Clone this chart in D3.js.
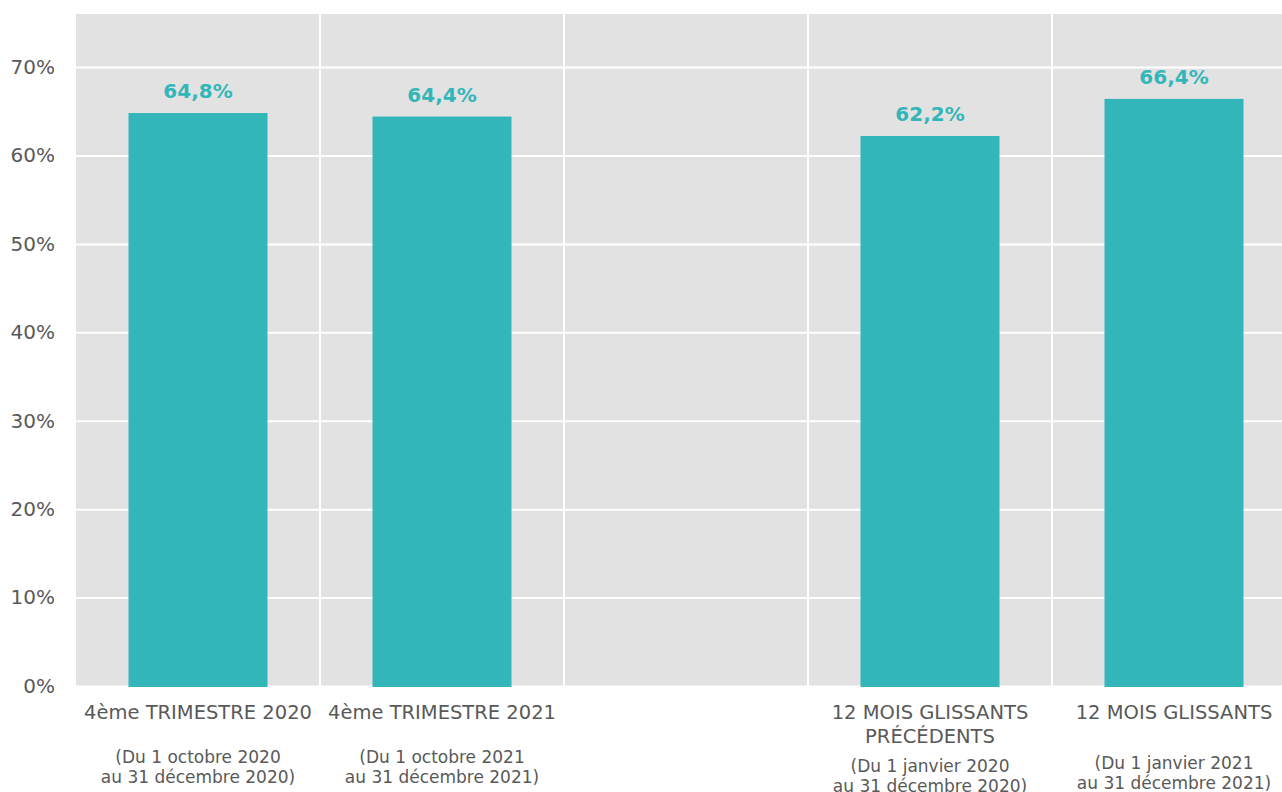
<!DOCTYPE html>
<html>
<head>
<meta charset="utf-8">
<script src="https://cdn.jsdelivr.net/npm/d3@7"></script>
<style>
  body { margin: 0; background: #fff; }
  svg { display: block; font-family: "DejaVu Sans", Verdana, sans-serif; }
</style>
</head>
<body>
<svg id="chart" width="1282" height="792"></svg>
<script>
// categories (the middle one is an empty spacer column)
const categories = ["q4_2020", "q4_2021", "blank", "y_prev", "y_curr"];
const categoryLines = [
    ["4ème TRIMESTRE 2020"],
    ["4ème TRIMESTRE 2021"],
    [],
    ["12 MOIS GLISSANTS", "PRÉCÉDENTS"],
    ["12 MOIS GLISSANTS"]
];
const dateLines = [
    ["(Du 1 octobre 2020", "au 31 décembre 2020)"],
    ["(Du 1 octobre 2021", "au 31 décembre 2021)"],
    [],
    ["(Du 1 janvier 2020", "au 31 décembre 2020)"],
    ["(Du 1 janvier 2021", "au 31 décembre 2021)"]
];
const values = [64.8, 64.4, null, 62.2, 66.4];
const valueLabels = ["64,8%", "64,4%", "", "62,2%", "66,4%"];
const yTicks = [0, 10, 20, 30, 40, 50, 60, 70];

const svg = d3.select("#chart");
const margin = { top: 14, left: 76, bottom: 106 };
const height = 792;
const bandW = 244;
const fontFam = '"DejaVu Sans", Verdana, sans-serif';

const x = d3.scaleBand()
    .domain(categories)
    .range([margin.left, margin.left + bandW * categories.length])
    .paddingInner(0).paddingOuter(0);

const y = d3.scaleLinear()
    .domain([0, 76])
    .range([height - margin.bottom, margin.top]);

// grey plot background
svg.append("rect")
    .attr("x", x.range()[0])
    .attr("y", y(76))
    .attr("width", x.range()[1] - x.range()[0])
    .attr("height", y(0) - y(76))
    .attr("fill", "#e2e2e2");

// horizontal grid + tick labels
svg.append("g")
    .attr("transform", `translate(${margin.left},0)`)
    .call(d3.axisLeft(y).tickValues(yTicks).tickFormat(d => d + "%")
        .tickSize(-(x.range()[1] - x.range()[0])).tickPadding(21))
    .call(g => g.attr("font-family", fontFam))
    .call(g => g.select(".domain").remove())
    .call(g => g.selectAll("line").attr("stroke", "#fff").attr("stroke-width", 2))
    .call(g => g.selectAll("text").attr("fill", "#595959").style("font-size", "20px"));

// vertical separators between categories
svg.append("g")
    .selectAll("line")
    .data(categories.slice(1))
    .join("line")
    .attr("x1", d => x(d))
    .attr("x2", d => x(d))
    .attr("y1", y(76))
    .attr("y2", y(0))
    .attr("stroke", "#fff")
    .attr("stroke-width", 2);

// bars
const barW = 139;
const data = categories.map((c, i) => ({ c, v: values[i], label: valueLabels[i] }))
    .filter(d => d.v != null);

svg.append("g")
    .selectAll("rect")
    .data(data)
    .join("rect")
    .attr("x", d => x(d.c) + x.bandwidth() / 2 - barW / 2)
    .attr("y", d => y(d.v))
    .attr("width", barW)
    .attr("height", d => y(0) - y(d.v) + 1)
    .attr("fill", "#33b6b9");

// value labels
svg.append("g")
    .selectAll("text")
    .data(data)
    .join("text")
    .attr("x", d => x(d.c) + x.bandwidth() / 2)
    .attr("y", d => y(d.v) - 15)
    .attr("text-anchor", "middle")
    .attr("fill", "#33b6b9")
    .style("font-size", "20px")
    .style("font-weight", "bold")
    .text(d => d.label);

// category labels + date ranges
categories.forEach((c, i) => {
    const cx = x(c) + x.bandwidth() / 2;
    const lines = categoryLines[i];
    lines.forEach((t, j) => {
        svg.append("text")
            .attr("x", cx)
            .attr("y", 719 + j * 24)
            .attr("text-anchor", "middle")
            .attr("fill", "#595959")
            .style("font-size", "19.5px")
            .text(t);
    });
    const dy = lines.length > 1 ? 772 : (i === 4 ? 769 : 763);
    dateLines[i].forEach((t, j) => {
        svg.append("text")
            .attr("x", cx)
            .attr("y", dy + j * 20)
            .attr("text-anchor", "middle")
            .attr("fill", "#595959")
            .style("font-size", "17px")
            .text(t);
    });
});
</script>
</body>
</html>
